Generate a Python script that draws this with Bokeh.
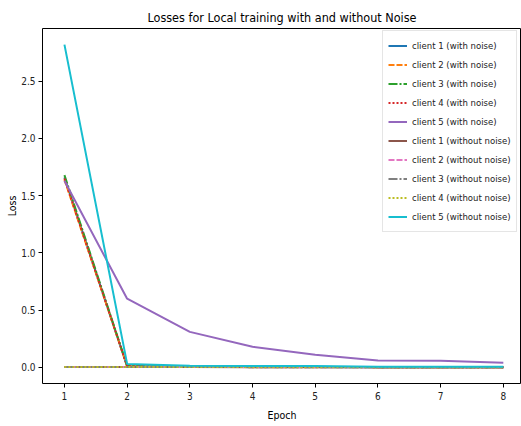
from bokeh.plotting import figure
from bokeh.models import Range1d, Legend, LegendItem, FixedTicker, NumeralTickFormatter
from bokeh.embed import file_html
from bokeh.resources import INLINE

epochs = [1, 2, 3, 4, 5, 6, 7, 8]

c1_noise = [1.66, 0.010, 0.005, 0.004, 0.003, 0.002, 0.002, 0.002]
c2_noise = [1.64, 0.010, 0.005, 0.004, 0.003, 0.002, 0.002, 0.002]
c3_noise = [1.68, 0.012, 0.006, 0.004, 0.003, 0.002, 0.002, 0.002]
c4_noise = [1.65, 0.010, 0.005, 0.004, 0.003, 0.002, 0.002, 0.002]
c5_noise = [1.63, 0.60, 0.31, 0.18, 0.11, 0.06, 0.057, 0.04]
c1_clean = [0.004, 0.003, 0.003, 0.002, 0.002, 0.002, 0.002, 0.002]
c2_clean = [0.004, 0.003, 0.003, 0.002, 0.002, 0.002, 0.002, 0.002]
c3_clean = [0.004, 0.003, 0.003, 0.002, 0.002, 0.002, 0.002, 0.002]
c4_clean = [0.004, 0.003, 0.003, 0.002, 0.002, 0.002, 0.002, 0.002]
c5_clean = [2.82, 0.03, 0.015, 0.012, 0.012, 0.005, 0.005, 0.005]

labels = ["client 1 (with noise)", "client 2 (with noise)", "client 3 (with noise)",
          "client 4 (with noise)", "client 5 (with noise)",
          "client 1 (without noise)", "client 2 (without noise)", "client 3 (without noise)",
          "client 4 (without noise)", "client 5 (without noise)"]
series = [c1_noise, c2_noise, c3_noise, c4_noise, c5_noise,
          c1_clean, c2_clean, c3_clean, c4_clean, c5_clean]
colors = ["#1f77b4", "#ff7f0e", "#2ca02c", "#d62728", "#9467bd",
          "#8c564b", "#e377c2", "#7f7f7f", "#bcbd22", "#17becf"]
dashes = ["solid", "6 2", "9 2 2 2", "2 2", "solid",
          "solid", "6 2", "9 2 2 2", "2 2", "solid"]

FONT = "'DejaVu Sans Condensed', 'DejaVu Sans'"

p = figure(width=521, height=426, output_backend="svg", toolbar_location=None,
           x_range=Range1d(0.65, 8.29), y_range=Range1d(-0.141, 2.961),
           title="Losses for Local training with and without Noise",
           min_border_left=42, min_border_right=0, min_border_top=28, min_border_bottom=43)

items = []
for lab, ys, c, d in zip(labels, series, colors, dashes):
    r = p.line(epochs, ys, line_color=c, line_width=2, line_dash=d)
    items.append(LegendItem(label=lab, renderers=[r]))

p.title.align = "center"
p.title.text_font = FONT
p.title.text_font_size = "12.5px"
p.title.text_font_style = "normal"
p.title.text_color = "black"
p.title.standoff = 8

p.grid.visible = False
p.outline_line_color = "black"
p.outline_line_width = 1
p.background_fill_color = "white"

p.xaxis.ticker = FixedTicker(ticks=epochs)
p.yaxis.ticker = FixedTicker(ticks=[0.0, 0.5, 1.0, 1.5, 2.0, 2.5])
p.yaxis.formatter = NumeralTickFormatter(format="0.0")
p.xaxis.axis_label = "Epoch"
p.yaxis.axis_label = "Loss"
for ax in (p.xaxis, p.yaxis):
    ax.axis_label_text_font = FONT
    ax.axis_label_text_font_size = "10.5px"
    ax.axis_label_text_font_style = "normal"
    ax.axis_label_text_color = "black"
    ax.major_label_text_font = FONT
    ax.major_label_text_font_size = "10px"
    ax.major_label_text_color = "#222222"
    ax.minor_tick_line_color = None
    ax.major_tick_out = 4
    ax.major_tick_in = 0
    ax.axis_line_color = None
    ax.major_tick_line_color = "black"
p.xaxis.major_label_standoff = 4
p.yaxis.major_label_standoff = 3
p.xaxis.axis_label_standoff = 6
p.yaxis.axis_label_standoff = 0

legend = Legend(items=items, location=(340, 151))
legend.label_text_font = FONT
legend.label_text_font_size = "9.5px"
legend.label_text_color = "#222222"
legend.glyph_width = 19
legend.glyph_height = 19
legend.label_height = 19
legend.spacing = 0
legend.padding = 5
legend.margin = 0
legend.label_standoff = 5
legend.border_line_color = "#cccccc"
legend.background_fill_alpha = 0.8
p.add_layout(legend, "center")

open("out.html", "w").write(file_html(p, INLINE))
